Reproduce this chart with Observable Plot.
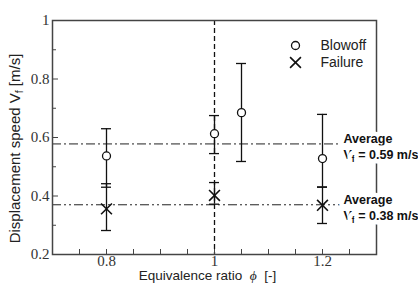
<!DOCTYPE html>
<html>
<head>
<meta charset="utf-8">
<script src="https://cdn.jsdelivr.net/npm/d3@7"></script>
<script src="https://cdn.jsdelivr.net/npm/@observablehq/plot@0.6"></script>
<style>
  html, body { margin: 0; padding: 0; background: #fff; }
  #chart svg { display: block; }
</style>
</head>
<body>
<div id="chart"></div>
<script>
// ---- data ----
const phiBlowoff  = [0.8, 1.0, 1.05, 1.2];
const vBlowoff    = [0.537, 0.613, 0.685, 0.528];
const blowoffLow  = [0.430, 0.545, 0.518, 0.430];
const blowoffHigh = [0.630, 0.675, 0.853, 0.679];

const phiFailure  = [0.8, 1.0, 1.2];
const vFailure    = [0.356, 0.402, 0.368];
const failureLow  = [0.282, 0.372, 0.306];
const failureHigh = [0.442, 0.446, 0.431];

const averageValues = [0.578, 0.370];
const averageLabels = ["Average\nV_f = 0.59 m/s", "Average\nV_f = 0.38 m/s"];

const stoichiometric = [1.0];

const xTickLabels = [0.8, 1, 1.2];
const xTicks = [0.75, 0.8, 0.85, 0.9, 0.95, 1.0, 1.05, 1.1, 1.15, 1.2, 1.25];
const yTickLabels = [0.2, 0.4, 0.6, 0.8, 1];
const yMinorTicks = [0.3, 0.5, 0.7, 0.9];

const legendNames = ["Blowoff", "Failure"];

// ---- tables ----
const blowoff = phiBlowoff.map((p, i) => ({phi: p, v: vBlowoff[i], lo: blowoffLow[i], hi: blowoffHigh[i]}));
const failure = phiFailure.map((p, i) => ({phi: p, v: vFailure[i], lo: failureLow[i], hi: failureHigh[i]}));
const averages = averageValues.map((v, i) => ({v, label: averageLabels[i]}));

const sans = "'Liberation Sans', Arial, Helvetica, sans-serif";
const serif = "'Liberation Serif', 'Times New Roman', serif";
const ink = "#111";

function errorBars(data) {
  return [
    Plot.ruleX(data, {x: "phi", y1: "lo", y2: "hi", stroke: ink, strokeWidth: 1.3}),
    Plot.ruleY(data, {y: "hi", x1: "phi", x2: "phi", insetLeft: -5, insetRight: -5, stroke: ink, strokeWidth: 1.3}),
    Plot.ruleY(data, {y: "lo", x1: "phi", x2: "phi", insetLeft: -5, insetRight: -5, stroke: ink, strokeWidth: 1.3})
  ];
}

const svg = Plot.plot({
  width: 418,
  height: 284,
  marginLeft: 52,
  marginRight: 42,
  marginTop: 20,
  marginBottom: 30,
  style: {background: "#fff", overflow: "visible"},
  x: {domain: [0.7, 1.3]},
  y: {domain: [0.2, 1]},
  marks: [
    // average lines
    Plot.ruleY(averages.slice(0, 1), {y: "v", stroke: "#222", strokeWidth: 1, strokeDasharray: "9,3,2,3"}),
    Plot.ruleY(averages.slice(1, 2), {y: "v", stroke: "#222", strokeWidth: 1, strokeDasharray: "9,3,2,3,2,3"}),
    // stoichiometric dashed line
    Plot.ruleX(stoichiometric, {x: d => d, stroke: ink, strokeWidth: 1.3, strokeDasharray: "5,3"}),
    // inward ticks
    Plot.axisX({ticks: xTicks, tickSize: 5, dy: -5, tickFormat: () => "", label: null, stroke: "#444"}),
    Plot.axisY({ticks: yTickLabels, tickSize: 6, dx: 6, tickFormat: () => "", label: null, stroke: "#444"}),
    Plot.axisY({ticks: yMinorTicks, tickSize: 4, dx: 4, tickFormat: () => "", label: null, stroke: "#444"}),
    // tick labels
    Plot.axisX({ticks: xTickLabels, tickSize: 0, tickPadding: 1, tickFormat: d => String(d), label: null,
      fontSize: 15, fontFamily: serif, fill: "#333"}),
    Plot.axisY({ticks: yTickLabels, tickSize: 0, tickPadding: 3, tickFormat: d => String(d), label: null,
      fontSize: 15, fontFamily: serif, fill: "#333"}),
    // frame
    Plot.frame({stroke: "#444", strokeWidth: 1.5}),
    // error bars
    ...errorBars(blowoff),
    ...errorBars(failure),
    // markers
    Plot.dot(blowoff, {x: "phi", y: "v", symbol: "circle", r: 4, stroke: ink, strokeWidth: 1.3, fill: "#fff"}),
    Plot.dot(failure, {x: "phi", y: "v", symbol: "times", r: 5, stroke: ink, strokeWidth: 1.6}),
    // average labels with white box (halo)
    Plot.text(averages, {x: 1.3, y: "v", text: "label", dx: -33, dy: 2, textAnchor: "start", lineAnchor: "middle",
      fontSize: 12.5, fontWeight: "bold", fontFamily: sans, fill: "#111", stroke: "#fff", strokeWidth: 9,
      lineHeight: 1.3}),
    // legend
    Plot.dot([legendNames[0]], {frameAnchor: "top-right", dx: -81, dy: 25, symbol: "circle", r: 4, stroke: ink, strokeWidth: 1.3, fill: "#fff"}),
    Plot.dot([legendNames[1]], {frameAnchor: "top-right", dx: -81, dy: 42, symbol: "times", r: 5, stroke: ink, strokeWidth: 1.6}),
    Plot.text([legendNames[0]], {text: d => d, frameAnchor: "top-right", dx: -56, dy: 25, textAnchor: "start", lineAnchor: "middle",
      fontSize: 14, fontFamily: sans, fill: "#222"}),
    Plot.text([legendNames[1]], {text: d => d, frameAnchor: "top-right", dx: -56, dy: 42, textAnchor: "start", lineAnchor: "middle",
      fontSize: 14, fontFamily: sans, fill: "#222"}),
    // axis titles
    Plot.text(["Displacement speed V_f [m/s]"], {text: d => d, frameAnchor: "left", rotate: -90, dx: -37, dy: 11,
      textAnchor: "middle", lineAnchor: "middle", fontSize: 15, fontFamily: sans, fill: "#222"}),
    Plot.text(["Equivalence ratio  ϕ  [-]"], {text: d => d, frameAnchor: "bottom", dx: -7, dy: 21,
      textAnchor: "middle", lineAnchor: "middle", fontSize: 13.5, fontFamily: sans, fill: "#222"})
  ]
});

// rich text: subscript f and italic phi
d3.select(svg).selectAll("text, tspan").each(function() {
  if (this.children.length) return;
  const t = this.textContent;
  if (!/V_f|ϕ/.test(t)) return;
  this.textContent = "";
  const parts = t.split(/(V_f|ϕ)/).filter(s => s.length);
  let shifted = false;
  const ns = "http://www.w3.org/2000/svg";
  for (const p of parts) {
    if (p === "V_f") {
      const v = document.createElementNS(ns, "tspan"); v.textContent = "V";
      this.appendChild(v);
      const f = document.createElementNS(ns, "tspan"); f.textContent = "f";
      f.setAttribute("font-size", "0.7em"); f.setAttribute("dy", "0.3em");
      this.appendChild(f);
      shifted = true;
    } else if (p === "ϕ") {
      const s = document.createElementNS(ns, "tspan"); s.textContent = "ϕ";
      s.setAttribute("font-style", "italic"); s.setAttribute("font-family", serif);
      this.appendChild(s);
    } else {
      const s = document.createElementNS(ns, "tspan"); s.textContent = p;
      if (shifted) { s.setAttribute("dy", "-0.21em"); shifted = false; }
      this.appendChild(s);
    }
  }
});

document.getElementById("chart").appendChild(svg);
</script>
</body>
</html>
